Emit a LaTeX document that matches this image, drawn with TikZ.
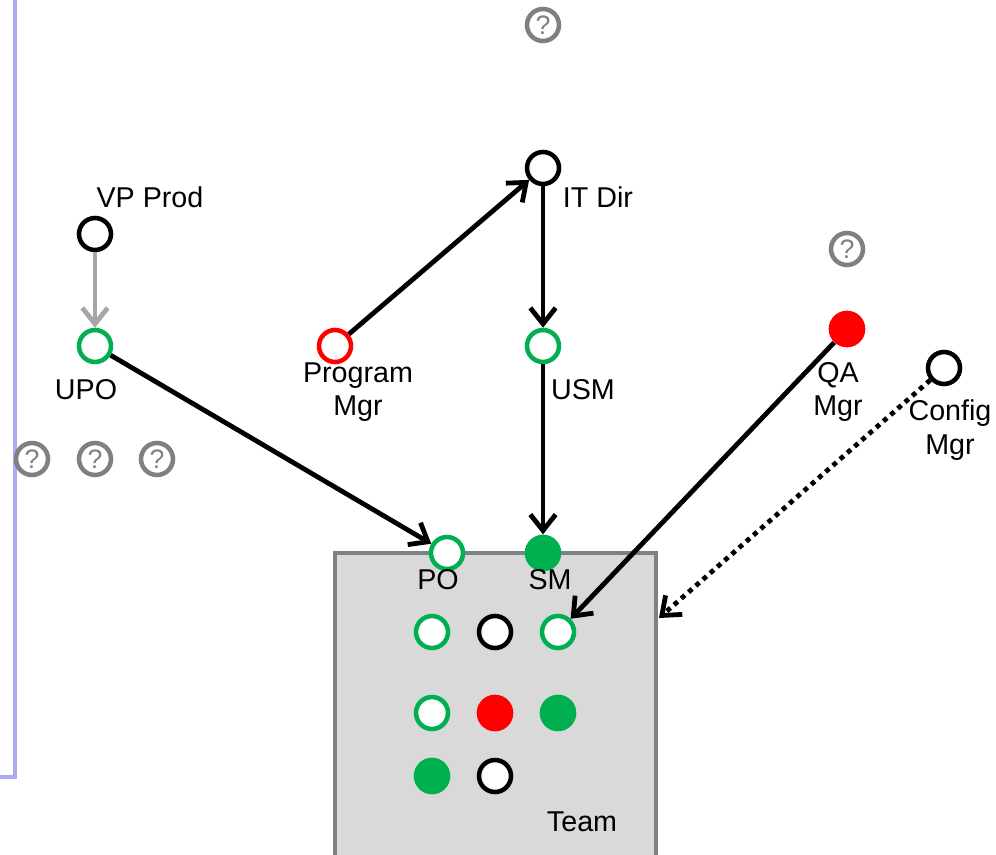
\documentclass[tikz,border=0pt]{standalone}
\usepackage{fontspec}
\setmainfont{Liberation Sans}
\usetikzlibrary{arrows.meta}
\definecolor{okgreen}{HTML}{00B050}
\definecolor{okred}{HTML}{FF0000}
\definecolor{boxgray}{HTML}{808080}
\definecolor{boxfill}{HTML}{D9D9D9}
\definecolor{framelilac}{HTML}{AAAAEE}
\definecolor{lightarrow}{HTML}{A6A6A6}
\tikzset{
  ring/.style={circle,draw=#1,line width=3.4pt,minimum size=24pt,inner sep=0pt,fill=white},
  dot/.style={circle,fill=#1,minimum size=27.5pt,inner sep=0pt},
  ask/.style={circle,draw=boxgray,line width=3.4pt,minimum size=24pt,inner sep=0pt,fill=white,
    text=boxgray,font=\fontsize{20}{20}\selectfont},
  lbl/.style={align=center,font=\fontsize{21.5}{25}\selectfont},
  link/.style={line width=3.6pt,-{Straight Barb[length=12pt,width=19pt]}}
}
\begin{document}
\begin{tikzpicture}[x=0.75pt,y=-0.75pt]
\useasboundingbox (0,0) rectangle (996,855);
\path[draw,framelilac,line width=3pt] (15,-5) -- (15,777) -- (-5,777);
\path[draw=boxgray,fill=boxfill,line width=3.4pt] (335,553) rectangle (656,880);
\coordinate (cfgend) at (659,618);

% people
\node[ring=black] (vpprod) at (95,234) {};
\node[ring=okgreen] (upo) at (95,346) {};
\node[ring=okred] (pgm) at (335,346) {};
\node[ring=black] (itdir) at (543,168) {};
\node[ring=okgreen] (usm) at (543,346) {};
\node[dot=okred] (qa) at (847,329) {};
\node[ring=black] (cfg) at (944,368) {};
\node[ring=okgreen] (po) at (447,553) {};
\node[dot=okgreen] (sm) at (543,553) {};

% team members
\node[ring=okgreen] (t11) at (432,632) {};
\node[ring=black] (t12) at (495,632) {};
\node[ring=okgreen] (t13) at (558,632) {};
\node[ring=okgreen] (t21) at (432,713) {};
\node[dot=okred] (t22) at (495,713) {};
\node[dot=okgreen] (t23) at (558,713) {};
\node[dot=okgreen] (t31) at (432,776) {};
\node[ring=black] (t32) at (495,776) {};

% open questions
\node[ask] (q1) at (543,25) {?};
\node[ask] (q2) at (847,249) {?};
\node[ask] (q3) at (32,459) {?};
\node[ask] (q4) at (95,459) {?};
\node[ask] (q5) at (157,459) {?};

\node[lbl] (vpprodlbl) at (150,197) {VP Prod};
\node[lbl] (upolbl) at (86,390) {UPO};
\node[lbl] (pgmlbl) at (358,392) {Program\\Mgr};
\node[lbl] (itdirlbl) at (598,197) {IT Dir};
\node[lbl] (usmlbl) at (583,390) {USM};
\node[lbl] (qalbl) at (838,392) {QA\\Mgr};
\node[lbl] (cfglbl) at (950,430) {Config\\Mgr};
\node[lbl] (polbl) at (438,580) {PO};
\node[lbl] (smlbl) at (550,580) {SM};
\node[lbl] (teamlbl) at (582,822) {Team};

\path[draw,link,lightarrow] (vpprod) -- (upo);
\path[draw,link] (upo) -- (po);
\path[draw,link] (pgm) -- (itdir);
\path[draw,link] (itdir) -- (usm);
\path[draw,link] (usm) -- (sm);
\path[draw,link] (qa) -- (t13);
\path[draw,link,dash pattern=on 3.6pt off 3.6pt] (cfg) -- (cfgend);
\end{tikzpicture}
\end{document}
